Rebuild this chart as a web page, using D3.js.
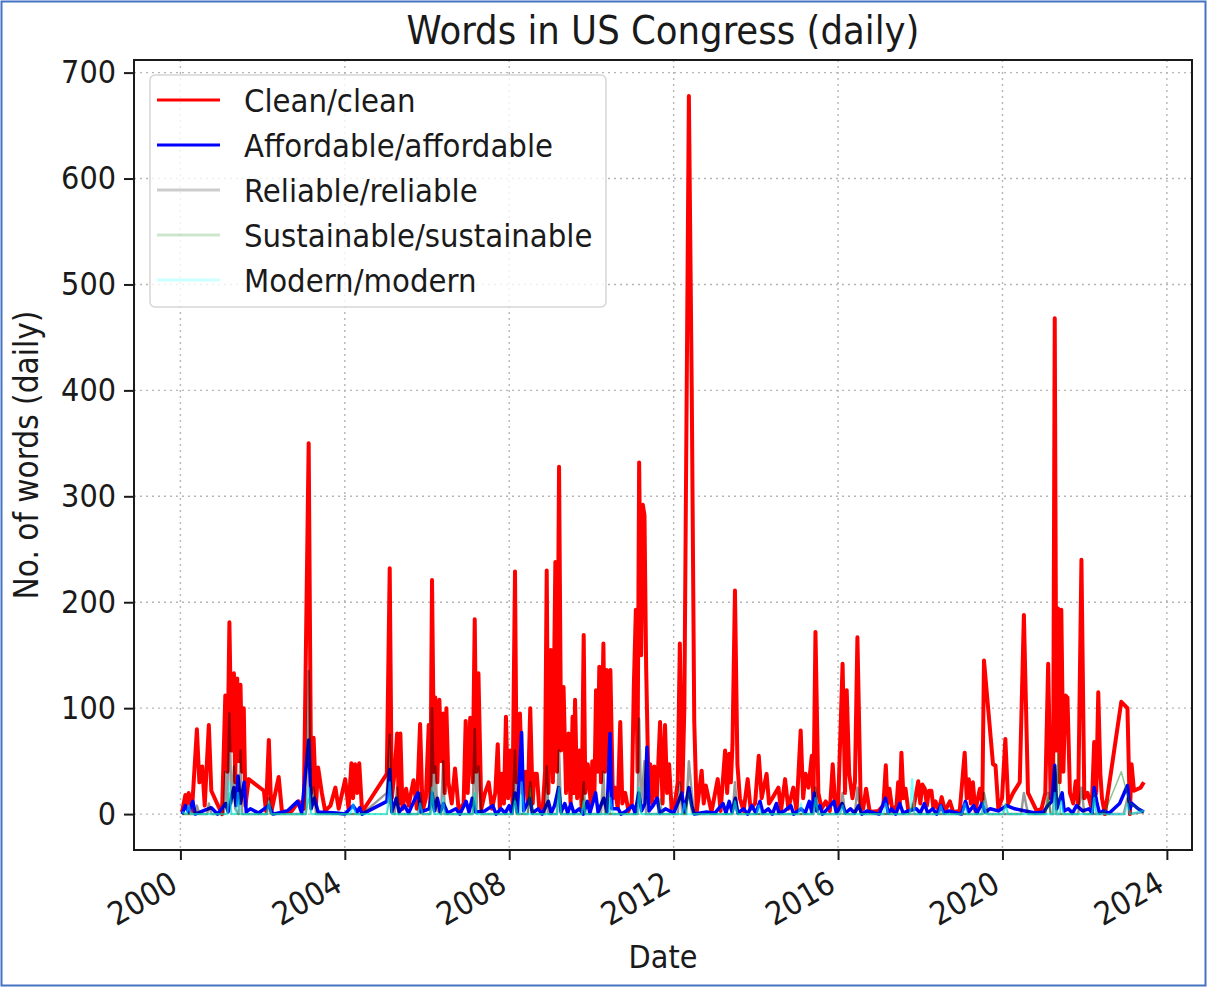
<!DOCTYPE html>
<meta charset="utf-8">
<head>
<style>
  body { margin: 0; background: #fff; }
  svg text { font-family: "DejaVu Sans Condensed", "DejaVu Sans", sans-serif; fill: #1a1a1a; }
</style>
<script src="https://d3js.org/d3.v7.min.js"></script>
</head>
<body>
<div id="chart"></div>
<script>
// *** Data: [decimal year, words that day]
var cleanPts = [
  [2000.04,2],[2000.12,18],[2000.16,5],[2000.20,20],[2000.28,3],[2000.40,80],[2000.46,30],[2000.53,45],
  [2000.59,8],[2000.69,84],[2000.75,22],[2000.89,10],[2001.01,0],[2001.09,112],[2001.14,40],[2001.19,181],
  [2001.24,60],[2001.30,133],[2001.33,30],[2001.38,128],[2001.42,50],[2001.46,122],[2001.50,40],[2001.54,100],
  [2001.58,8],[2001.66,33],[2002.03,22],[2002.08,3],[2002.15,70],[2002.21,2],[2002.39,35],[2002.47,2],
  [2002.71,3],[2002.88,12],[2003.00,5],[2003.12,350],[2003.18,20],[2003.24,72],[2003.30,10],[2003.35,44],
  [2003.44,20],[2003.52,3],[2003.65,8],[2003.77,25],[2003.85,5],[2004.01,33],[2004.09,5],[2004.16,48],
  [2004.20,15],[2004.25,47],[2004.30,20],[2004.35,48],[2004.42,2],[2005.02,38],[2005.09,232],[2005.14,15],
  [2005.21,40],[2005.27,76],[2005.31,10],[2005.35,76],[2005.40,5],[2005.49,24],[2005.55,8],[2005.67,32],
  [2005.75,5],[2005.83,85],[2005.89,3],[2005.97,15],[2006.04,84],[2006.08,10],[2006.12,221],[2006.17,40],
  [2006.20,110],[2006.25,30],[2006.30,108],[2006.34,50],[2006.39,95],[2006.43,20],[2006.47,100],[2006.52,30],
  [2006.60,10],[2006.68,43],[2006.77,3],[2006.89,10],[2006.94,88],[2006.99,20],[2007.05,91],[2007.11,30],
  [2007.16,184],[2007.20,40],[2007.25,133],[2007.32,5],[2007.41,20],[2007.50,30],[2007.58,5],[2007.66,20],
  [2007.72,66],[2007.77,5],[2007.82,38],[2007.87,10],[2007.92,92],[2007.97,15],[2008.02,60],[2008.08,10],
  [2008.14,229],[2008.18,30],[2008.26,95],[2008.32,20],[2008.39,40],[2008.45,10],[2008.51,100],[2008.57,10],
  [2008.61,38],[2008.67,38],[2008.73,5],[2008.81,3],[2008.87,40],[2008.91,230],[2008.95,20],[2009.01,155],
  [2009.06,30],[2009.12,238],[2009.16,40],[2009.21,328],[2009.26,60],[2009.32,120],[2009.38,20],[2009.44,76],
  [2009.49,10],[2009.54,92],[2009.57,20],[2009.60,108],[2009.65,15],[2009.71,60],[2009.76,5],[2009.81,169],
  [2009.85,20],[2009.91,47],[2009.98,10],[2010.02,50],[2010.07,15],[2010.11,117],[2010.15,40],[2010.19,139],
  [2010.23,30],[2010.29,161],[2010.33,40],[2010.37,136],[2010.41,50],[2010.46,136],[2010.52,15],[2010.57,25],
  [2010.64,5],[2010.70,87],[2010.75,10],[2010.82,20],[2010.90,3],[2010.98,10],[2011.03,120],[2011.08,193],
  [2011.12,40],[2011.16,332],[2011.21,150],[2011.25,292],[2011.29,282],[2011.33,140],[2011.39,20],[2011.43,47],
  [2011.48,10],[2011.53,45],[2011.59,15],[2011.67,87],[2011.73,10],[2011.79,84],[2011.84,20],[2011.89,47],
  [2011.95,5],[2012.03,10],[2012.10,30],[2012.15,161],[2012.21,20],[2012.26,100],[2012.37,678],[2012.44,397],
  [2012.50,88],[2012.56,2],[2012.68,41],[2012.73,10],[2012.78,27],[2012.92,2],[2013.07,33],[2013.14,3],
  [2013.25,60],[2013.30,20],[2013.35,57],[2013.39,30],[2013.43,66],[2013.49,211],[2013.55,47],[2013.61,15],
  [2013.70,3],[2013.80,33],[2013.87,5],[2013.98,10],[2014.07,55],[2014.14,15],[2014.26,38],[2014.32,10],
  [2014.40,15],[2014.55,25],[2014.61,3],[2014.71,33],[2014.79,5],[2014.91,25],[2014.99,3],[2015.09,79],
  [2015.15,15],[2015.21,38],[2015.28,25],[2015.36,55],[2015.40,10],[2015.45,172],[2015.52,20],[2015.60,5],
  [2015.70,12],[2015.80,3],[2015.87,47],[2015.92,15],[2016.00,5],[2016.11,142],[2016.17,20],[2016.21,117],
  [2016.27,38],[2016.35,15],[2016.41,30],[2016.47,167],[2016.55,10],[2016.61,5],[2016.68,24],[2016.77,2],
  [2016.98,3],[2017.10,8],[2017.16,46],[2017.20,10],[2017.25,24],[2017.32,3],[2017.42,8],[2017.46,30],
  [2017.50,10],[2017.54,58],[2017.59,15],[2017.64,24],[2017.71,3],[2017.83,5],[2017.95,31],[2018.00,10],
  [2018.05,28],[2018.11,24],[2018.16,8],[2018.21,22],[2018.27,22],[2018.32,5],[2018.37,12],[2018.45,3],
  [2018.52,16],[2018.60,3],[2018.72,12],[2018.80,2],[2018.96,3],[2019.08,58],[2019.13,15],[2019.18,33],
  [2019.23,10],[2019.28,30],[2019.34,3],[2019.45,24],[2019.51,10],[2019.55,145],[2019.77,47],[2019.83,46],
  [2019.90,5],[2019.99,15],[2020.07,71],[2020.14,10],[2020.26,20],[2020.42,30],[2020.52,188],[2020.62,20],
  [2020.72,12],[2020.83,3],[2020.95,5],[2021.04,20],[2021.11,142],[2021.17,15],[2021.23,20],[2021.27,468],
  [2021.31,60],[2021.35,194],[2021.39,30],[2021.43,193],[2021.48,40],[2021.53,112],[2021.58,110],[2021.64,20],
  [2021.72,10],[2021.78,31],[2021.84,10],[2021.92,240],[2021.99,15],[2022.07,20],[2022.17,5],[2022.23,68],
  [2022.28,20],[2022.33,115],[2022.38,38],[2022.42,15],[2022.49,0],[2022.89,106],[2023.04,100],[2023.10,0],
  [2023.14,47],[2023.20,22],[2023.36,25],[2023.44,30]
];
var affordablePts = [
  [2000.04,0],[2000.12,8],[2000.20,2],[2000.30,12],[2000.36,0],[2000.55,3],[2000.75,6],[2000.90,0],
  [2001.10,10],[2001.16,2],[2001.30,25],[2001.35,8],[2001.40,36],[2001.46,10],[2001.55,30],[2001.60,2],
  [2001.70,5],[2001.90,1],[2002.15,8],[2002.25,0],[2002.60,3],[2002.85,12],[2002.95,1],[2003.12,70],
  [2003.18,5],[2003.26,15],[2003.35,2],[2003.80,1],[2004.00,0],[2004.20,8],[2004.30,2],[2004.36,6],
  [2004.42,0],[2005.02,12],[2005.09,42],[2005.14,2],[2005.25,15],[2005.32,2],[2005.45,8],[2005.55,1],
  [2005.70,14],[2005.78,20],[2005.85,2],[2006.05,5],[2006.12,20],[2006.18,3],[2006.25,15],[2006.32,2],
  [2006.40,10],[2006.50,1],[2006.70,5],[2006.80,0],[2006.95,12],[2007.02,2],[2007.10,15],[2007.18,2],
  [2007.40,3],[2007.60,8],[2007.68,0],[2007.80,5],[2007.90,1],[2008.00,8],[2008.06,1],[2008.14,20],
  [2008.20,2],[2008.30,77],[2008.35,3],[2008.50,15],[2008.56,1],[2008.70,5],[2008.80,0],[2008.95,12],
  [2009.02,1],[2009.10,8],[2009.20,25],[2009.26,2],[2009.35,10],[2009.42,1],[2009.50,10],[2009.57,1],
  [2009.70,5],[2009.80,0],[2009.90,12],[2009.96,1],[2010.10,20],[2010.16,2],[2010.30,15],[2010.38,2],
  [2010.45,76],[2010.50,5],[2010.65,5],[2010.72,0],[2010.85,3],[2011.00,8],[2011.06,1],[2011.15,20],
  [2011.22,3],[2011.30,10],[2011.35,63],[2011.40,3],[2011.50,8],[2011.60,15],[2011.66,1],[2011.80,5],
  [2012.00,1],[2012.20,20],[2012.26,2],[2012.37,25],[2012.44,8],[2012.50,0],[2012.80,2],[2013.00,1],
  [2013.20,10],[2013.27,1],[2013.35,12],[2013.42,2],[2013.50,15],[2013.56,1],[2013.70,5],[2013.80,0],
  [2013.90,8],[2014.00,1],[2014.10,12],[2014.17,1],[2014.30,5],[2014.40,0],[2014.50,10],[2014.56,1],
  [2014.70,3],[2014.85,8],[2014.92,0],[2015.10,5],[2015.20,1],[2015.30,12],[2015.36,2],[2015.42,20],
  [2015.48,3],[2015.56,8],[2015.62,0],[2015.75,5],[2015.90,12],[2015.96,1],[2016.10,10],[2016.18,1],
  [2016.30,5],[2016.40,1],[2016.50,8],[2016.58,0],[2016.70,3],[2017.00,0],[2017.15,15],[2017.22,1],
  [2017.30,5],[2017.40,0],[2017.50,10],[2017.58,1],[2017.70,3],[2017.90,5],[2018.00,1],[2018.10,10],
  [2018.18,1],[2018.30,5],[2018.40,0],[2018.50,8],[2018.58,1],[2018.70,3],[2019.00,0],[2019.10,12],
  [2019.18,2],[2019.30,8],[2019.38,1],[2019.50,10],[2019.58,2],[2019.70,5],[2019.90,3],[2020.10,8],
  [2020.30,5],[2020.55,3],[2020.80,1],[2021.00,2],[2021.10,8],[2021.20,12],[2021.27,46],[2021.32,5],
  [2021.40,15],[2021.45,20],[2021.50,3],[2021.60,5],[2021.70,1],[2021.80,8],[2021.95,3],[2022.10,5],
  [2022.18,1],[2022.23,25],[2022.30,10],[2022.36,1],[2022.45,3],[2022.60,1],[2022.85,10],[2023.04,27],
  [2023.10,5],[2023.15,10],[2023.30,5],[2023.44,2]
];
var reliablePts = [
  [2000.04,0],[2000.36,0],[2000.40,8],[2000.46,0],[2000.65,0],[2000.69,10],[2000.75,0],[2001.05,0],
  [2001.09,40],[2001.14,5],[2001.19,95],[2001.24,10],[2001.30,45],[2001.33,5],[2001.42,0],[2001.46,60],
  [2001.50,0],[2002.10,0],[2002.15,15],[2002.21,0],[2003.05,0],[2003.12,135],[2003.18,5],[2003.24,25],
  [2003.30,0],[2004.42,0],[2005.02,20],[2005.09,75],[2005.14,3],[2005.21,0],[2005.27,25],[2005.31,0],
  [2005.78,0],[2005.83,20],[2005.89,0],[2006.08,0],[2006.12,100],[2006.17,5],[2006.20,45],[2006.25,3],
  [2006.34,0],[2006.39,50],[2006.43,0],[2007.11,0],[2007.16,80],[2007.20,3],[2007.25,45],[2007.32,0],
  [2008.08,0],[2008.14,60],[2008.18,0],[2008.45,0],[2008.51,30],[2008.57,0],[2008.87,0],[2008.91,45],
  [2008.95,0],[2009.16,0],[2009.21,60],[2009.26,0],[2009.76,0],[2009.81,30],[2009.85,0],[2010.23,0],
  [2010.29,40],[2010.33,0],[2011.12,0],[2011.16,90],[2011.21,10],[2011.29,50],[2011.33,0],[2012.10,0],
  [2012.15,30],[2012.21,0],[2012.30,0],[2012.37,50],[2012.44,20],[2012.50,0],[2013.43,0],[2013.49,30],
  [2013.55,0],[2015.40,0],[2015.45,25],[2015.52,0],[2016.05,0],[2016.11,20],[2016.17,0],[2016.41,0],
  [2016.47,25],[2016.55,0],[2019.51,0],[2019.55,20],[2019.65,0],[2020.45,0],[2020.52,20],[2020.62,0],
  [2021.04,0],[2021.11,20],[2021.17,0],[2021.23,0],[2021.27,45],[2021.31,0],[2021.84,0],[2021.92,25],
  [2021.99,0],[2022.95,0],[2023.04,15],[2023.10,0],[2023.44,2]
];
var sustainablePts = [
  [2000.04,0],[2001.14,0],[2001.19,20],[2001.24,0],[2003.05,0],[2003.12,15],[2003.18,0],[2005.02,0],
  [2005.09,15],[2005.14,0],[2006.08,0],[2006.12,25],[2006.17,0],[2007.11,0],[2007.16,20],[2007.20,0],
  [2008.08,0],[2008.14,15],[2008.18,0],[2008.45,0],[2008.51,25],[2008.57,0],[2009.16,0],[2009.21,20],
  [2009.26,0],[2009.76,0],[2009.81,15],[2009.85,0],[2010.35,0],[2010.41,20],[2010.46,0],[2011.12,0],
  [2011.16,25],[2011.21,0],[2011.62,0],[2011.67,15],[2011.73,0],[2012.30,0],[2012.37,20],[2012.44,0],
  [2013.43,0],[2013.49,12],[2013.55,0],[2015.40,0],[2015.45,10],[2015.52,0],[2017.75,0],[2017.80,10],
  [2017.86,0],[2020.02,0],[2020.07,10],[2020.14,0],[2021.04,0],[2021.11,15],[2021.17,0],[2021.31,0],
  [2021.35,57],[2021.41,0],[2022.18,0],[2022.23,20],[2022.28,0],[2022.49,2],[2022.89,40],[2023.10,10],
  [2023.44,2]
];
var modernPts = [
  [2000.04,2],[2000.15,0],[2000.20,8],[2000.26,0],[2001.14,0],[2001.19,30],[2001.24,0],[2001.35,0],
  [2001.40,20],[2001.46,0],[2002.10,0],[2002.15,12],[2002.21,0],[2003.05,0],[2003.12,25],[2003.18,0],
  [2004.14,0],[2004.20,10],[2004.26,0],[2005.02,0],[2005.09,30],[2005.14,0],[2005.78,0],[2005.83,10],
  [2005.89,0],[2006.08,0],[2006.12,25],[2006.17,0],[2006.34,0],[2006.39,15],[2006.43,0],[2007.11,0],
  [2007.16,20],[2007.20,0],[2008.08,0],[2008.14,12],[2008.20,0],[2008.26,0],[2008.30,30],[2008.36,0],
  [2009.16,0],[2009.21,25],[2009.26,0],[2009.76,0],[2009.81,12],[2009.85,0],[2010.41,0],[2010.46,15],
  [2010.52,0],[2011.12,0],[2011.16,25],[2011.21,0],[2012.21,0],[2012.26,10],[2012.32,0],[2013.43,0],
  [2013.49,12],[2013.55,0],[2014.02,0],[2014.07,8],[2014.12,0],[2015.04,0],[2015.09,10],[2015.15,0],
  [2015.40,0],[2015.45,15],[2015.52,0],[2016.05,0],[2016.11,8],[2016.17,0],[2017.10,0],[2017.16,10],
  [2017.22,0],[2017.75,0],[2017.80,33],[2017.86,0],[2018.45,0],[2018.50,8],[2018.56,0],[2019.02,0],
  [2019.08,10],[2019.14,0],[2019.50,0],[2019.55,12],[2019.60,0],[2020.02,0],[2020.07,8],[2020.14,0],
  [2021.23,0],[2021.27,20],[2021.31,0],[2021.38,0],[2021.43,12],[2021.48,0],[2022.18,0],[2022.23,15],
  [2022.28,0],[2022.98,0],[2023.04,10],[2023.10,0],[2023.44,3]
];
var seriesNames = ["Clean/clean", "Affordable/affordable", "Reliable/reliable", "Sustainable/sustainable", "Modern/modern"];
var seriesData = [cleanPts, affordablePts, reliablePts, sustainablePts, modernPts];
var yTicks = [0, 100, 200, 300, 400, 500, 600, 700];
var xTickYears = [2000, 2004, 2008, 2012, 2016, 2020, 2024];

// *** styles per series (matplotlib-ish)
var styles = [
  { color: "#ff0000", width: 4, opacity: 1, legendOpacity: 1 },
  { color: "#0000ff", width: 3.5, opacity: 1, legendOpacity: 1 },
  { color: "#000000", width: 2.5, opacity: 0.4, legendOpacity: 0.2 },
  { color: "#008000", width: 1.5, opacity: 0.45, legendOpacity: 0.2 },
  { color: "#00ffff", width: 2.2, opacity: 0.5, legendOpacity: 0.2 }
];

function yearToDate(t) {
  var yr = Math.floor(t);
  var start = new Date(yr, 0, 1), end = new Date(yr + 1, 0, 1);
  return new Date(+start + (t - yr) * (end - start));
}

var W = 1208, H = 988;
var plot = { left: 134, right: 1192, top: 60, bottom: 850 };

var svg = d3.select("#chart").append("svg")
  .attr("width", W)
  .attr("height", H);

svg.append("rect").attr("width", W).attr("height", H).attr("fill", "#fff");

// *** scales, with matplotlib's 5% margins
var allPts = d3.merge(seriesData);
var tExt = d3.extent(allPts, function(d) { return d[0]; });
var tPad = (tExt[1] - tExt[0]) * 0.05;
var vMax = d3.max(allPts, function(d) { return d[1]; });
var vMin = d3.min(allPts, function(d) { return d[1]; });
var vPad = (vMax - vMin) * 0.05;

var x = d3.scaleTime()
  .domain([yearToDate(tExt[0] - tPad), yearToDate(tExt[1] + tPad)])
  .range([plot.left, plot.right]);
var y = d3.scaleLinear()
  .domain([vMin - vPad, vMax + vPad])
  .range([plot.bottom, plot.top]);

var xTickDates = xTickYears.map(function(yr) { return new Date(yr, 0, 1); });

// grid
var grid = svg.append("g").attr("class", "grid")
  .attr("stroke", "#b5b5b5").attr("stroke-width", 1.4).attr("stroke-dasharray", "2,4");
grid.selectAll(".gx").data(xTickDates).enter().append("line")
  .attr("x1", function(d) { return x(d); }).attr("x2", function(d) { return x(d); })
  .attr("y1", plot.top).attr("y2", plot.bottom);
grid.selectAll(".gy").data(yTicks).enter().append("line")
  .attr("x1", plot.left).attr("x2", plot.right)
  .attr("y1", function(d) { return y(d); }).attr("y2", function(d) { return y(d); });

// clip
svg.append("defs").append("clipPath").attr("id", "clip")
  .append("rect")
  .attr("x", plot.left).attr("y", plot.top)
  .attr("width", plot.right - plot.left).attr("height", plot.bottom - plot.top);

var line = d3.line()
  .x(function(d) { return x(yearToDate(d[0])); })
  .y(function(d) { return y(d[1]); });

var lines = svg.append("g").attr("clip-path", "url(#clip)");
seriesData.forEach(function(pts, i) {
  lines.append("path")
    .datum(pts)
    .attr("fill", "none")
    .attr("stroke", styles[i].color)
    .attr("stroke-opacity", styles[i].opacity)
    .attr("stroke-width", styles[i].width)
    .attr("stroke-linejoin", "round")
    .attr("d", line);
});

// *** axes
var xAxis = d3.axisBottom(x).tickValues(xTickDates).tickFormat(d3.timeFormat("%Y")).tickSizeInner(10).tickSizeOuter(0);
var yAxis = d3.axisLeft(y).tickValues(yTicks).tickSizeInner(10).tickSizeOuter(0).tickPadding(8);

var gx = svg.append("g")
  .attr("transform", "translate(0," + plot.bottom + ")")
  .call(xAxis);
gx.select(".domain").remove();
gx.selectAll("line").attr("stroke", "#1a1a1a").attr("stroke-width", 2);
gx.selectAll("text")
  .attr("font-size", 32)
  .attr("fill", "#1a1a1a")
  .style("text-anchor", "end")
  .attr("dy", 0)
  .attr("x", -21)
  .attr("y", 34)
  .attr("transform", "rotate(-30)");

var gy = svg.append("g")
  .attr("transform", "translate(" + plot.left + ",0)")
  .call(yAxis);
gy.select(".domain").remove();
gy.selectAll("line").attr("stroke", "#1a1a1a").attr("stroke-width", 2);
gy.selectAll("text").attr("font-size", 32).attr("fill", "#1a1a1a");

// frame
svg.append("rect")
  .attr("x", plot.left).attr("y", plot.top)
  .attr("width", plot.right - plot.left).attr("height", plot.bottom - plot.top)
  .attr("fill", "none").attr("stroke", "#1a1a1a").attr("stroke-width", 2);

// titles
svg.append("text")
  .attr("x", (plot.left + plot.right) / 2).attr("y", 44)
  .attr("text-anchor", "middle").attr("font-size", 39.5)
  .text("Words in US Congress (daily)");
svg.append("text")
  .attr("x", (plot.left + plot.right) / 2).attr("y", 968)
  .attr("text-anchor", "middle").attr("font-size", 32)
  .text("Date");
svg.append("text")
  .attr("transform", "translate(38," + ((plot.top + plot.bottom) / 2) + ") rotate(-90)")
  .attr("text-anchor", "middle").attr("font-size", 33)
  .text("No. of words (daily)");

// *** legend
var legend = svg.append("g").attr("transform", "translate(150,75)");
legend.append("rect")
  .attr("width", 456).attr("height", 232).attr("rx", 5)
  .attr("fill", "#fff").attr("fill-opacity", 0.8)
  .attr("stroke", "#d6d6d6").attr("stroke-width", 1.5);
seriesNames.forEach(function(name, i) {
  var ly = 25 + i * 45;
  legend.append("line")
    .attr("x1", 7).attr("x2", 70).attr("y1", ly).attr("y2", ly)
    .attr("stroke", styles[i].color)
    .attr("stroke-opacity", styles[i].legendOpacity)
    .attr("stroke-width", 3);
  legend.append("text")
    .attr("x", 94).attr("y", ly).attr("dy", "0.36em")
    .attr("font-size", 32.5)
    .text(name);
});

// image border
svg.append("rect")
  .attr("x", 1.5).attr("y", 1.5).attr("width", W - 4).attr("height", H - 4)
  .attr("fill", "none").attr("stroke", "#4472c4").attr("stroke-width", 2);
</script>
</body>
